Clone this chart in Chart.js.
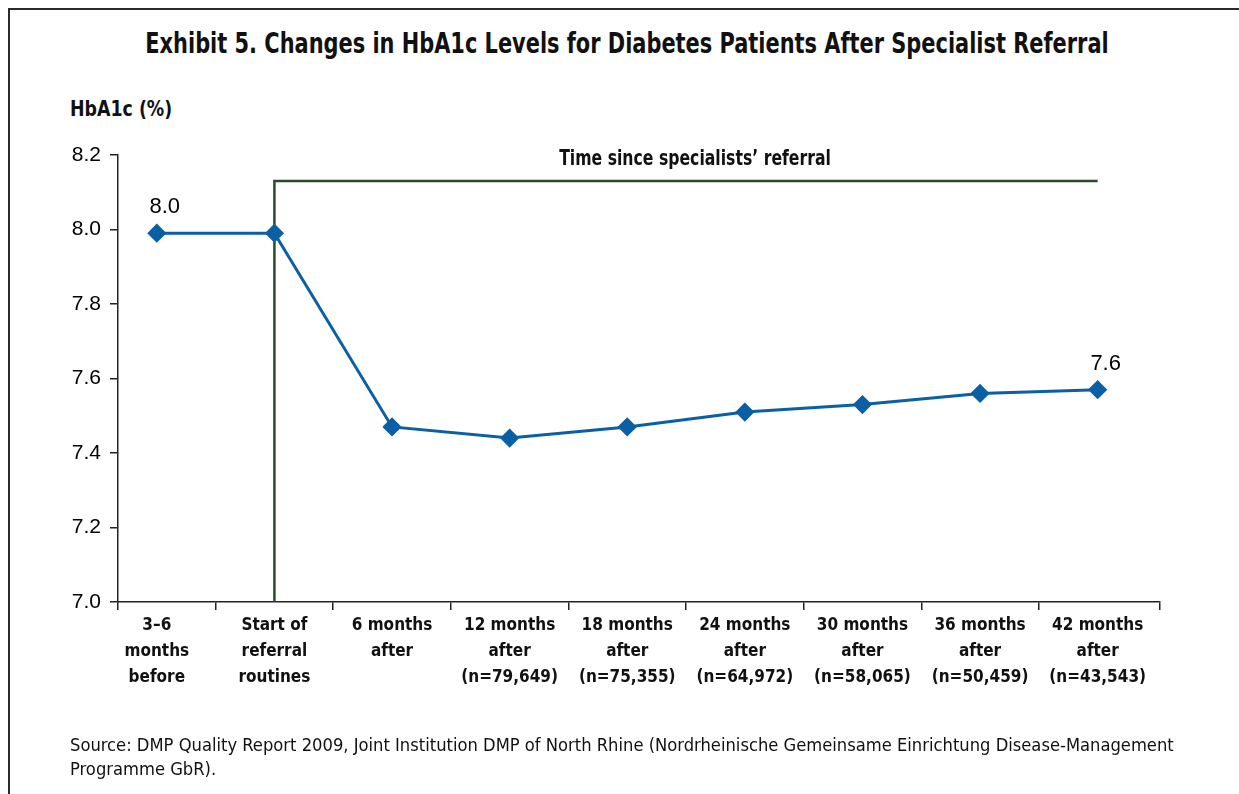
<!DOCTYPE html>
<html>
<head>
<meta charset="utf-8">
<script src="https://cdn.jsdelivr.net/npm/chart.js@4.4.0/dist/chart.umd.min.js"></script>
<style>
  body { margin: 0; background: #fff; }
  #wrap { position: relative; width: 1239px; height: 794px; overflow: hidden; }
  #frame { position: absolute; left: 8px; top: 8px; width: 1400px; height: 900px;
           border-left: 2px solid #2a2a2a; border-top: 2px solid #2a2a2a; }
  #title { position: absolute; left: 0; width: 1254px; top: 27px; text-align: center;
           font: bold 28px "DejaVu Sans Condensed", sans-serif; color: #111;
           transform: scaleX(0.83); transform-origin: 627px 0; white-space: nowrap; }
  #unit { position: absolute; left: 70px; top: 97px;
          font: bold 21px "DejaVu Sans Condensed", sans-serif; color: #111;
          transform: scaleX(0.92); transform-origin: 0 0; }
  #source { position: absolute; left: 70px; top: 733px;
            font: 18.2px "DejaVu Sans Condensed", sans-serif; line-height: 24px; color: #111; }
  canvas { position: absolute; left: 0; top: 0; }
</style>
</head>
<body>
<div id="wrap">
  <div id="frame"></div>
  <div id="title">Exhibit 5. Changes in HbA1c Levels for Diabetes Patients After Specialist Referral</div>
  <div id="unit">HbA1c (%)</div>
  <canvas id="chart" width="1239" height="794"></canvas>
  <div id="source">Source: DMP Quality Report 2009, Joint Institution DMP of North Rhine (Nordrheinische Gemeinsame Einrichtung Disease-Management<br>Programme GbR).</div>
</div>
<script>
const categories = [
  ['3–6', 'months', 'before'],
  ['Start of', 'referral', 'routines'],
  ['6 months', 'after'],
  ['12 months', 'after', '(n=79,649)'],
  ['18 months', 'after', '(n=75,355)'],
  ['24 months', 'after', '(n=64,972)'],
  ['30 months', 'after', '(n=58,065)'],
  ['36 months', 'after', '(n=50,459)'],
  ['42 months', 'after', '(n=43,543)'],
];
const hba1c = [7.99, 7.99, 7.47, 7.44, 7.47, 7.51, 7.53, 7.56, 7.57];
const pointLabels = ['8.0', '', '', '', '', '', '', '', '7.6'];
const yTicks = [7.0, 7.2, 7.4, 7.6, 7.8, 8.0, 8.2];
const bracketText = 'Time since specialists\u2019 referral';
const bracketFrom = 1, bracketTo = 8, bracketLevel = 8.13;

const narrow = '"DejaVu Sans Condensed", sans-serif';
const xMin = -0.33, xMax = 8.53;

// x ticks: one per category (label, no mark) plus boundaries between them (mark, no label)
const xTickValues = [xMin];
categories.forEach((_, i) => {
  xTickValues.push(i);
  if (i < categories.length - 1) xTickValues.push(i + 0.5);
});
xTickValues.push(xMax);

// bracket line + labels above first/last points
const annotations = {
  id: 'annotations',
  beforeDatasetsDraw(chart) {
    const { ctx, scales: { x, y }, chartArea } = chart;
    const x0 = x.getPixelForValue(bracketFrom);
    const x1 = x.getPixelForValue(bracketTo);
    const yl = y.getPixelForValue(bracketLevel);
    ctx.save();
    ctx.strokeStyle = '#2c4a2c';
    ctx.lineWidth = 2.5;
    ctx.beginPath();
    ctx.moveTo(x0, chartArea.bottom);
    ctx.lineTo(x0, yl);
    ctx.lineTo(x1, yl);
    ctx.stroke();
    ctx.fillStyle = '#111';
    ctx.font = 'bold 21px ' + narrow;
    ctx.textAlign = 'center';
    ctx.textBaseline = 'middle';
    ctx.translate((x0 + x1) / 2 + 9, yl - 22);
    ctx.scale(0.83, 1);
    ctx.fillText(bracketText, 0, 0);
    ctx.restore();
  },
  afterDatasetsDraw(chart) {
    const { ctx } = chart;
    const meta = chart.getDatasetMeta(0);
    ctx.save();
    ctx.fillStyle = '#000';
    ctx.font = '22px "Liberation Sans", Arial, sans-serif';
    ctx.textAlign = 'center';
    ctx.textBaseline = 'middle';
    meta.data.forEach((pt, i) => {
      if (pointLabels[i]) ctx.fillText(pointLabels[i], pt.x + 8, pt.y - 26);
    });
    ctx.restore();
  }
};

new Chart(document.getElementById('chart'), {
  type: 'line',
  data: {
    datasets: [{
      data: hba1c.map((v, i) => ({ x: i, y: v })),
      borderColor: '#0a5fa5',
      backgroundColor: '#0a5fa5',
      borderWidth: 3,
      pointStyle: 'rectRot',
      pointRadius: 7.5,
      pointHoverRadius: 7.5,
      tension: 0,
      fill: false,
    }]
  },
  options: {
    responsive: false,
    animation: false,
    layout: { padding: { left: 0, top: 155, right: 79, bottom: 0 } },
    plugins: { legend: { display: false }, tooltip: { enabled: false } },
    scales: {
      x: {
        type: 'linear',
        min: xMin,
        max: xMax,
        afterBuildTicks(s) { s.ticks = xTickValues.map(v => ({ value: v })); },
        grid: {
          display: true, drawOnChartArea: false, drawTicks: true, tickLength: 8, lineWidth: 1.5,
          color: ctx => (ctx.tick && Number.isInteger(ctx.tick.value)) ? 'rgba(0,0,0,0)' : '#222',
        },
        border: { display: true, color: '#222', width: 1.5 },
        ticks: {
          color: '#111',
          font: { family: narrow, size: 17, weight: 'bold', lineHeight: 1.53 },
          padding: 3,
          maxRotation: 0,
          autoSkip: false,
          callback: v => Number.isInteger(v) ? categories[v] : '',
        },
        afterFit(s) { s.height = 192; },
      },
      y: {
        min: 7.0,
        max: 8.2,
        afterBuildTicks(s) { s.ticks = yTicks.map(v => ({ value: v })); },
        grid: { display: true, drawOnChartArea: false, drawTicks: true, tickLength: 8, color: '#222', lineWidth: 1.5 },
        border: { display: true, color: '#222', width: 1.5 },
        ticks: {
          color: '#000',
          font: { family: '"Liberation Sans", Arial, sans-serif', size: 21 },
          padding: 9,
          callback: v => v.toFixed(1),
        },
        afterFit(s) { s.width = 118; },
      }
    }
  },
  plugins: [annotations]
});
</script>
</body>
</html>
